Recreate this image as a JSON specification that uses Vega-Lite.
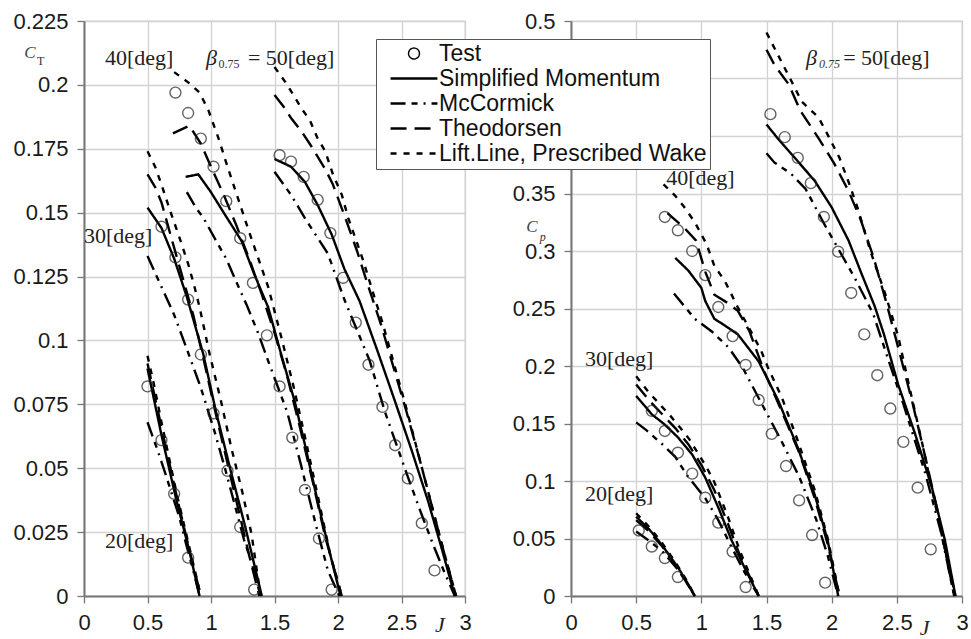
{
"$schema": "https://vega.github.io/schema/vega-lite/v6.json",
"background": "white",
"padding": {"left": 12, "top": 9, "right": 0, "bottom": 0},
"bounds": "flush",
"spacing": 106,
"datasets": {
"ct_lines": [
{"a":20,"m":"SM","J":0.50,"C":0.089},{"a":20,"m":"SM","J":0.61,"C":0.063},{"a":20,"m":"SM","J":0.73,"C":0.037},{"a":20,"m":"SM","J":0.83,"C":0.0176},{"a":20,"m":"SM","J":0.91,"C":0},
{"a":20,"m":"LL","J":0.50,"C":0.094},{"a":20,"m":"LL","J":0.55,"C":0.083},{"a":20,"m":"LL","J":0.61,"C":0.068},{"a":20,"m":"LL","J":0.73,"C":0.040},{"a":20,"m":"LL","J":0.83,"C":0.019},{"a":20,"m":"LL","J":0.92,"C":0},
{"a":20,"m":"TH","J":0.50,"C":0.091},{"a":20,"m":"TH","J":0.61,"C":0.066},{"a":20,"m":"TH","J":0.73,"C":0.039},{"a":20,"m":"TH","J":0.83,"C":0.018},{"a":20,"m":"TH","J":0.92,"C":0},
{"a":20,"m":"MC","J":0.50,"C":0.068},{"a":20,"m":"MC","J":0.58,"C":0.057},{"a":20,"m":"MC","J":0.64,"C":0.048},{"a":20,"m":"MC","J":0.75,"C":0.031},{"a":20,"m":"MC","J":0.79,"C":0.023},{"a":20,"m":"MC","J":0.86,"C":0.010},{"a":20,"m":"MC","J":0.91,"C":0},
{"a":30,"m":"SM","J":0.50,"C":0.152},{"a":30,"m":"SM","J":0.61,"C":0.144},{"a":30,"m":"SM","J":0.71,"C":0.132},{"a":30,"m":"SM","J":0.81,"C":0.117},{"a":30,"m":"SM","J":0.94,"C":0.0945},{"a":30,"m":"SM","J":1.04,"C":0.072},{"a":30,"m":"SM","J":1.15,"C":0.050},{"a":30,"m":"SM","J":1.27,"C":0.027},{"a":30,"m":"SM","J":1.40,"C":0},
{"a":30,"m":"LL","J":0.50,"C":0.174},{"a":30,"m":"LL","J":0.56,"C":0.168},{"a":30,"m":"LL","J":0.61,"C":0.161},{"a":30,"m":"LL","J":0.69,"C":0.149},{"a":30,"m":"LL","J":0.74,"C":0.142},{"a":30,"m":"LL","J":0.82,"C":0.130},{"a":30,"m":"LL","J":0.87,"C":0.121},{"a":30,"m":"LL","J":0.91,"C":0.113},{"a":30,"m":"LL","J":0.99,"C":0.0945},{"a":30,"m":"LL","J":1.08,"C":0.076},{"a":30,"m":"LL","J":1.16,"C":0.058},{"a":30,"m":"LL","J":1.25,"C":0.040},{"a":30,"m":"LL","J":1.32,"C":0.024},{"a":30,"m":"LL","J":1.39,"C":0},
{"a":30,"m":"TH","J":0.50,"C":0.165},{"a":30,"m":"TH","J":0.56,"C":0.160},{"a":30,"m":"TH","J":0.61,"C":0.154},{"a":30,"m":"TH","J":0.70,"C":0.138},{"a":30,"m":"TH","J":0.78,"C":0.124},{"a":30,"m":"TH","J":0.86,"C":0.110},{"a":30,"m":"TH","J":0.94,"C":0.093},{"a":30,"m":"TH","J":1.03,"C":0.073},{"a":30,"m":"TH","J":1.12,"C":0.054},{"a":30,"m":"TH","J":1.21,"C":0.035},{"a":30,"m":"TH","J":1.30,"C":0.016},{"a":30,"m":"TH","J":1.38,"C":0},
{"a":30,"m":"MC","J":0.50,"C":0.133},{"a":30,"m":"MC","J":0.61,"C":0.121},{"a":30,"m":"MC","J":0.71,"C":0.110},{"a":30,"m":"MC","J":0.81,"C":0.0966},{"a":30,"m":"MC","J":0.92,"C":0.0815},{"a":30,"m":"MC","J":1.03,"C":0.064},{"a":30,"m":"MC","J":1.11,"C":0.050},{"a":30,"m":"MC","J":1.18,"C":0.037},{"a":30,"m":"MC","J":1.26,"C":0.022},{"a":30,"m":"MC","J":1.32,"C":0.013},{"a":30,"m":"MC","J":1.39,"C":0},
{"a":40,"m":"LL","J":0.71,"C":0.205},{"a":40,"m":"LL","J":0.82,"C":0.201},{"a":40,"m":"LL","J":0.91,"C":0.197},{"a":40,"m":"LL","J":0.98,"C":0.190},{"a":40,"m":"LL","J":1.06,"C":0.179},{"a":40,"m":"LL","J":1.13,"C":0.168},{"a":40,"m":"LL","J":1.21,"C":0.156},{"a":40,"m":"LL","J":1.29,"C":0.144},{"a":40,"m":"LL","J":1.38,"C":0.131},{"a":40,"m":"LL","J":1.45,"C":0.121},{"a":40,"m":"LL","J":1.55,"C":0.102},{"a":40,"m":"LL","J":1.65,"C":0.082},{"a":40,"m":"LL","J":1.75,"C":0.060},{"a":40,"m":"LL","J":1.85,"C":0.037},{"a":40,"m":"LL","J":1.94,"C":0.016},{"a":40,"m":"LL","J":2.03,"C":0},
{"a":40,"m":"SM","J":0.80,"C":0.164},{"a":40,"m":"SM","J":0.90,"C":0.165},{"a":40,"m":"SM","J":1.00,"C":0.158},{"a":40,"m":"SM","J":1.10,"C":0.150},{"a":40,"m":"SM","J":1.24,"C":0.139},{"a":40,"m":"SM","J":1.34,"C":0.126},{"a":40,"m":"SM","J":1.45,"C":0.113},{"a":40,"m":"SM","J":1.55,"C":0.095},{"a":40,"m":"SM","J":1.66,"C":0.076},{"a":40,"m":"SM","J":1.75,"C":0.057},{"a":40,"m":"SM","J":1.84,"C":0.037},{"a":40,"m":"SM","J":1.93,"C":0.018},{"a":40,"m":"SM","J":2.02,"C":0},
{"a":40,"m":"TH","J":0.70,"C":0.181},{"a":40,"m":"TH","J":0.83,"C":0.184},{"a":40,"m":"TH","J":0.92,"C":0.177},{"a":40,"m":"TH","J":1.00,"C":0.168},{"a":40,"m":"TH","J":1.10,"C":0.157},{"a":40,"m":"TH","J":1.20,"C":0.145},{"a":40,"m":"TH","J":1.30,"C":0.132},{"a":40,"m":"TH","J":1.40,"C":0.118},{"a":40,"m":"TH","J":1.50,"C":0.103},{"a":40,"m":"TH","J":1.60,"C":0.086},{"a":40,"m":"TH","J":1.70,"C":0.066},{"a":40,"m":"TH","J":1.80,"C":0.045},{"a":40,"m":"TH","J":1.90,"C":0.023},{"a":40,"m":"TH","J":2.03,"C":0},
{"a":40,"m":"MC","J":0.81,"C":0.158},{"a":40,"m":"MC","J":0.88,"C":0.152},{"a":40,"m":"MC","J":0.94,"C":0.148},{"a":40,"m":"MC","J":1.04,"C":0.139},{"a":40,"m":"MC","J":1.12,"C":0.132},{"a":40,"m":"MC","J":1.19,"C":0.124},{"a":40,"m":"MC","J":1.28,"C":0.114},{"a":40,"m":"MC","J":1.37,"C":0.103},{"a":40,"m":"MC","J":1.45,"C":0.092},{"a":40,"m":"MC","J":1.60,"C":0.072},{"a":40,"m":"MC","J":1.71,"C":0.051},{"a":40,"m":"MC","J":1.82,"C":0.029},{"a":40,"m":"MC","J":1.92,"C":0.010},{"a":40,"m":"MC","J":2.01,"C":0},
{"a":50,"m":"LL","J":1.50,"C":0.207},{"a":50,"m":"LL","J":1.58,"C":0.2015},{"a":50,"m":"LL","J":1.63,"C":0.1976},{"a":50,"m":"LL","J":1.71,"C":0.191},{"a":50,"m":"LL","J":1.78,"C":0.186},{"a":50,"m":"LL","J":1.84,"C":0.179},{"a":50,"m":"LL","J":1.90,"C":0.174},{"a":50,"m":"LL","J":1.96,"C":0.165},{"a":50,"m":"LL","J":2.03,"C":0.157},{"a":50,"m":"LL","J":2.08,"C":0.148},{"a":50,"m":"LL","J":2.13,"C":0.141},{"a":50,"m":"LL","J":2.20,"C":0.131},{"a":50,"m":"LL","J":2.28,"C":0.118},{"a":50,"m":"LL","J":2.35,"C":0.107},{"a":50,"m":"LL","J":2.44,"C":0.091},{"a":50,"m":"LL","J":2.53,"C":0.075},{"a":50,"m":"LL","J":2.63,"C":0.056},{"a":50,"m":"LL","J":2.73,"C":0.037},{"a":50,"m":"LL","J":2.83,"C":0.018},{"a":50,"m":"LL","J":2.93,"C":0},
{"a":50,"m":"TH","J":1.50,"C":0.196},{"a":50,"m":"TH","J":1.58,"C":0.191},{"a":50,"m":"TH","J":1.63,"C":0.187},{"a":50,"m":"TH","J":1.71,"C":0.182},{"a":50,"m":"TH","J":1.79,"C":0.176},{"a":50,"m":"TH","J":1.90,"C":0.167},{"a":50,"m":"TH","J":1.96,"C":0.161},{"a":50,"m":"TH","J":2.05,"C":0.149},{"a":50,"m":"TH","J":2.15,"C":0.135},{"a":50,"m":"TH","J":2.24,"C":0.121},{"a":50,"m":"TH","J":2.34,"C":0.106},{"a":50,"m":"TH","J":2.44,"C":0.089},{"a":50,"m":"TH","J":2.54,"C":0.072},{"a":50,"m":"TH","J":2.64,"C":0.054},{"a":50,"m":"TH","J":2.74,"C":0.035},{"a":50,"m":"TH","J":2.84,"C":0.016},{"a":50,"m":"TH","J":2.93,"C":0},
{"a":50,"m":"SM","J":1.50,"C":0.171},{"a":50,"m":"SM","J":1.63,"C":0.168},{"a":50,"m":"SM","J":1.74,"C":0.162},{"a":50,"m":"SM","J":1.84,"C":0.153},{"a":50,"m":"SM","J":1.95,"C":0.1415},{"a":50,"m":"SM","J":2.05,"C":0.128},{"a":50,"m":"SM","J":2.17,"C":0.1154},{"a":50,"m":"SM","J":2.31,"C":0.096},{"a":50,"m":"SM","J":2.45,"C":0.076},{"a":50,"m":"SM","J":2.58,"C":0.057},{"a":50,"m":"SM","J":2.71,"C":0.037},{"a":50,"m":"SM","J":2.82,"C":0.018},{"a":50,"m":"SM","J":2.92,"C":0},
{"a":50,"m":"MC","J":1.50,"C":0.166},{"a":50,"m":"MC","J":1.63,"C":0.157},{"a":50,"m":"MC","J":1.75,"C":0.147},{"a":50,"m":"MC","J":1.92,"C":0.134},{"a":50,"m":"MC","J":2.05,"C":0.116},{"a":50,"m":"MC","J":2.15,"C":0.104},{"a":50,"m":"MC","J":2.25,"C":0.092},{"a":50,"m":"MC","J":2.37,"C":0.072},{"a":50,"m":"MC","J":2.54,"C":0.048},{"a":50,"m":"MC","J":2.65,"C":0.033},{"a":50,"m":"MC","J":2.75,"C":0.020},{"a":50,"m":"MC","J":2.84,"C":0.009},{"a":50,"m":"MC","J":2.92,"C":0}
],
"ct_test": [
{"m":"T","J":0.50,"C":0.082},{"m":"T","J":0.61,"C":0.061},{"m":"T","J":0.71,"C":0.040},{"m":"T","J":0.82,"C":0.015},
{"m":"T","J":0.61,"C":0.1445},{"m":"T","J":0.72,"C":0.1325},{"m":"T","J":0.82,"C":0.116},{"m":"T","J":0.92,"C":0.0945},{"m":"T","J":1.02,"C":0.0715},{"m":"T","J":1.13,"C":0.049},{"m":"T","J":1.23,"C":0.027},{"m":"T","J":1.34,"C":0.0025},
{"m":"T","J":0.72,"C":0.197},{"m":"T","J":0.82,"C":0.189},{"m":"T","J":0.92,"C":0.179},{"m":"T","J":1.02,"C":0.168},{"m":"T","J":1.12,"C":0.1545},{"m":"T","J":1.23,"C":0.140},{"m":"T","J":1.33,"C":0.1225},{"m":"T","J":1.44,"C":0.102},{"m":"T","J":1.54,"C":0.082},{"m":"T","J":1.64,"C":0.062},{"m":"T","J":1.74,"C":0.0415},{"m":"T","J":1.85,"C":0.0225},{"m":"T","J":1.95,"C":0.0025},
{"m":"T","J":1.54,"C":0.1725},{"m":"T","J":1.63,"C":0.170},{"m":"T","J":1.73,"C":0.164},{"m":"T","J":1.84,"C":0.155},{"m":"T","J":1.94,"C":0.142},{"m":"T","J":2.04,"C":0.1245},{"m":"T","J":2.14,"C":0.107},{"m":"T","J":2.24,"C":0.0905},{"m":"T","J":2.35,"C":0.074},{"m":"T","J":2.45,"C":0.059},{"m":"T","J":2.55,"C":0.046},{"m":"T","J":2.66,"C":0.0285},{"m":"T","J":2.76,"C":0.010}
],
"cp_lines": [
{"a":20,"m":"SM","J":0.50,"C":0.069},{"a":20,"m":"SM","J":0.60,"C":0.058},{"a":20,"m":"SM","J":0.70,"C":0.044},{"a":20,"m":"SM","J":0.82,"C":0.025},{"a":20,"m":"SM","J":0.89,"C":0.012},{"a":20,"m":"SM","J":0.95,"C":0},
{"a":20,"m":"LL","J":0.50,"C":0.072},{"a":20,"m":"LL","J":0.60,"C":0.060},{"a":20,"m":"LL","J":0.70,"C":0.046},{"a":20,"m":"LL","J":0.82,"C":0.026},{"a":20,"m":"LL","J":0.89,"C":0.013},{"a":20,"m":"LL","J":0.95,"C":0},
{"a":20,"m":"TH","J":0.50,"C":0.066},{"a":20,"m":"TH","J":0.60,"C":0.056},{"a":20,"m":"TH","J":0.70,"C":0.043},{"a":20,"m":"TH","J":0.82,"C":0.024},{"a":20,"m":"TH","J":0.89,"C":0.011},{"a":20,"m":"TH","J":0.95,"C":0},
{"a":20,"m":"MC","J":0.50,"C":0.056},{"a":20,"m":"MC","J":0.60,"C":0.048},{"a":20,"m":"MC","J":0.70,"C":0.039},{"a":20,"m":"MC","J":0.82,"C":0.023},{"a":20,"m":"MC","J":0.89,"C":0.011},{"a":20,"m":"MC","J":0.95,"C":0},
{"a":30,"m":"SM","J":0.50,"C":0.174},{"a":30,"m":"SM","J":0.62,"C":0.158},{"a":30,"m":"SM","J":0.72,"C":0.149},{"a":30,"m":"SM","J":0.82,"C":0.138},{"a":30,"m":"SM","J":0.93,"C":0.123},{"a":30,"m":"SM","J":1.03,"C":0.103},{"a":30,"m":"SM","J":1.13,"C":0.077},{"a":30,"m":"SM","J":1.23,"C":0.049},{"a":30,"m":"SM","J":1.33,"C":0.025},{"a":30,"m":"SM","J":1.44,"C":0},
{"a":30,"m":"LL","J":0.50,"C":0.191},{"a":30,"m":"LL","J":0.59,"C":0.178},{"a":30,"m":"LL","J":0.67,"C":0.168},{"a":30,"m":"LL","J":0.76,"C":0.157},{"a":30,"m":"LL","J":0.84,"C":0.146},{"a":30,"m":"LL","J":0.91,"C":0.136},{"a":30,"m":"LL","J":0.98,"C":0.123},{"a":30,"m":"LL","J":1.04,"C":0.112},{"a":30,"m":"LL","J":1.10,"C":0.099},{"a":30,"m":"LL","J":1.20,"C":0.070},{"a":30,"m":"LL","J":1.30,"C":0.038},{"a":30,"m":"LL","J":1.44,"C":0},
{"a":30,"m":"TH","J":0.50,"C":0.184},{"a":30,"m":"TH","J":0.60,"C":0.170},{"a":30,"m":"TH","J":0.70,"C":0.158},{"a":30,"m":"TH","J":0.80,"C":0.146},{"a":30,"m":"TH","J":0.90,"C":0.132},{"a":30,"m":"TH","J":1.00,"C":0.114},{"a":30,"m":"TH","J":1.10,"C":0.092},{"a":30,"m":"TH","J":1.20,"C":0.064},{"a":30,"m":"TH","J":1.30,"C":0.034},{"a":30,"m":"TH","J":1.44,"C":0},
{"a":30,"m":"MC","J":0.50,"C":0.151},{"a":30,"m":"MC","J":0.58,"C":0.144},{"a":30,"m":"MC","J":0.70,"C":0.132},{"a":30,"m":"MC","J":0.80,"C":0.121},{"a":30,"m":"MC","J":0.89,"C":0.105},{"a":30,"m":"MC","J":1.03,"C":0.085},{"a":30,"m":"MC","J":1.13,"C":0.066},{"a":30,"m":"MC","J":1.23,"C":0.043},{"a":30,"m":"MC","J":1.33,"C":0.021},{"a":30,"m":"MC","J":1.44,"C":0},
{"a":40,"m":"LL","J":0.71,"C":0.358},{"a":40,"m":"LL","J":0.80,"C":0.348},{"a":40,"m":"LL","J":0.87,"C":0.338},{"a":40,"m":"LL","J":0.95,"C":0.325},{"a":40,"m":"LL","J":1.04,"C":0.306},{"a":40,"m":"LL","J":1.10,"C":0.287},{"a":40,"m":"LL","J":1.18,"C":0.274},{"a":40,"m":"LL","J":1.28,"C":0.251},{"a":40,"m":"LL","J":1.39,"C":0.228},{"a":40,"m":"LL","J":1.46,"C":0.213},{"a":40,"m":"LL","J":1.51,"C":0.199},{"a":40,"m":"LL","J":1.62,"C":0.172},{"a":40,"m":"LL","J":1.74,"C":0.135},{"a":40,"m":"LL","J":1.87,"C":0.092},{"a":40,"m":"LL","J":1.97,"C":0.050},{"a":40,"m":"LL","J":2.06,"C":0},
{"a":40,"m":"TH","J":0.74,"C":0.333},{"a":40,"m":"TH","J":0.87,"C":0.320},{"a":40,"m":"TH","J":0.96,"C":0.309},{"a":40,"m":"TH","J":1.03,"C":0.282},{"a":40,"m":"TH","J":1.10,"C":0.262},{"a":40,"m":"TH","J":1.20,"C":0.255},{"a":40,"m":"TH","J":1.28,"C":0.248},{"a":40,"m":"TH","J":1.37,"C":0.230},{"a":40,"m":"TH","J":1.48,"C":0.196},{"a":40,"m":"TH","J":1.60,"C":0.165},{"a":40,"m":"TH","J":1.75,"C":0.125},{"a":40,"m":"TH","J":1.87,"C":0.085},{"a":40,"m":"TH","J":1.97,"C":0.045},{"a":40,"m":"TH","J":2.06,"C":0},
{"a":40,"m":"SM","J":0.80,"C":0.294},{"a":40,"m":"SM","J":0.90,"C":0.283},{"a":40,"m":"SM","J":1.00,"C":0.268},{"a":40,"m":"SM","J":1.03,"C":0.2565},{"a":40,"m":"SM","J":1.10,"C":0.241},{"a":40,"m":"SM","J":1.17,"C":0.236},{"a":40,"m":"SM","J":1.28,"C":0.2275},{"a":40,"m":"SM","J":1.44,"C":0.204},{"a":40,"m":"SM","J":1.59,"C":0.170},{"a":40,"m":"SM","J":1.74,"C":0.129},{"a":40,"m":"SM","J":1.87,"C":0.088},{"a":40,"m":"SM","J":1.97,"C":0.048},{"a":40,"m":"SM","J":2.05,"C":0},
{"a":40,"m":"MC","J":0.79,"C":0.263},{"a":40,"m":"MC","J":0.87,"C":0.252},{"a":40,"m":"MC","J":0.95,"C":0.241},{"a":40,"m":"MC","J":1.08,"C":0.230},{"a":40,"m":"MC","J":1.21,"C":0.216},{"a":40,"m":"MC","J":1.32,"C":0.198},{"a":40,"m":"MC","J":1.45,"C":0.170},{"a":40,"m":"MC","J":1.60,"C":0.138},{"a":40,"m":"MC","J":1.75,"C":0.104},{"a":40,"m":"MC","J":1.88,"C":0.067},{"a":40,"m":"MC","J":1.97,"C":0.035},{"a":40,"m":"MC","J":2.05,"C":0},
{"a":50,"m":"LL","J":1.50,"C":0.490},{"a":50,"m":"LL","J":1.59,"C":0.470},{"a":50,"m":"LL","J":1.69,"C":0.448},{"a":50,"m":"LL","J":1.77,"C":0.430},{"a":50,"m":"LL","J":1.90,"C":0.416},{"a":50,"m":"LL","J":1.97,"C":0.401},{"a":50,"m":"LL","J":2.06,"C":0.381},{"a":50,"m":"LL","J":2.13,"C":0.360},{"a":50,"m":"LL","J":2.20,"C":0.337},{"a":50,"m":"LL","J":2.30,"C":0.299},{"a":50,"m":"LL","J":2.41,"C":0.263},{"a":50,"m":"LL","J":2.51,"C":0.226},{"a":50,"m":"LL","J":2.59,"C":0.185},{"a":50,"m":"LL","J":2.70,"C":0.130},{"a":50,"m":"LL","J":2.79,"C":0.082},{"a":50,"m":"LL","J":2.87,"C":0.040},{"a":50,"m":"LL","J":2.95,"C":0},
{"a":50,"m":"TH","J":1.50,"C":0.475},{"a":50,"m":"TH","J":1.56,"C":0.462},{"a":50,"m":"TH","J":1.67,"C":0.445},{"a":50,"m":"TH","J":1.76,"C":0.422},{"a":50,"m":"TH","J":1.90,"C":0.398},{"a":50,"m":"TH","J":2.02,"C":0.376},{"a":50,"m":"TH","J":2.13,"C":0.352},{"a":50,"m":"TH","J":2.22,"C":0.328},{"a":50,"m":"TH","J":2.32,"C":0.295},{"a":50,"m":"TH","J":2.42,"C":0.255},{"a":50,"m":"TH","J":2.52,"C":0.212},{"a":50,"m":"TH","J":2.62,"C":0.168},{"a":50,"m":"TH","J":2.72,"C":0.120},{"a":50,"m":"TH","J":2.82,"C":0.070},{"a":50,"m":"TH","J":2.94,"C":0},
{"a":50,"m":"SM","J":1.50,"C":0.410},{"a":50,"m":"SM","J":1.60,"C":0.396},{"a":50,"m":"SM","J":1.74,"C":0.378},{"a":50,"m":"SM","J":1.87,"C":0.361},{"a":50,"m":"SM","J":2.00,"C":0.338},{"a":50,"m":"SM","J":2.13,"C":0.309},{"a":50,"m":"SM","J":2.23,"C":0.280},{"a":50,"m":"SM","J":2.33,"C":0.252},{"a":50,"m":"SM","J":2.40,"C":0.228},{"a":50,"m":"SM","J":2.51,"C":0.184},{"a":50,"m":"SM","J":2.64,"C":0.141},{"a":50,"m":"SM","J":2.77,"C":0.094},{"a":50,"m":"SM","J":2.87,"C":0.048},{"a":50,"m":"SM","J":2.95,"C":0},
{"a":50,"m":"MC","J":1.50,"C":0.385},{"a":50,"m":"MC","J":1.56,"C":0.377},{"a":50,"m":"MC","J":1.69,"C":0.367},{"a":50,"m":"MC","J":1.80,"C":0.354},{"a":50,"m":"MC","J":1.95,"C":0.322},{"a":50,"m":"MC","J":2.06,"C":0.300},{"a":50,"m":"MC","J":2.18,"C":0.276},{"a":50,"m":"MC","J":2.32,"C":0.245},{"a":50,"m":"MC","J":2.43,"C":0.207},{"a":50,"m":"MC","J":2.55,"C":0.167},{"a":50,"m":"MC","J":2.72,"C":0.106},{"a":50,"m":"MC","J":2.84,"C":0.055},{"a":50,"m":"MC","J":2.94,"C":0}
],
"cp_test": [
{"m":"T","J":0.52,"C":0.057},{"m":"T","J":0.62,"C":0.043},{"m":"T","J":0.72,"C":0.033},{"m":"T","J":0.82,"C":0.0165},
{"m":"T","J":0.62,"C":0.161},{"m":"T","J":0.72,"C":0.1435},{"m":"T","J":0.82,"C":0.1246},{"m":"T","J":0.93,"C":0.1064},{"m":"T","J":1.03,"C":0.0855},{"m":"T","J":1.13,"C":0.0638},{"m":"T","J":1.24,"C":0.0386},{"m":"T","J":1.34,"C":0.0078},
{"m":"T","J":0.72,"C":0.3296},{"m":"T","J":0.82,"C":0.318},{"m":"T","J":0.93,"C":0.300},{"m":"T","J":1.03,"C":0.279},{"m":"T","J":1.13,"C":0.2513},{"m":"T","J":1.24,"C":0.226},{"m":"T","J":1.34,"C":0.2009},{"m":"T","J":1.44,"C":0.1704},{"m":"T","J":1.54,"C":0.141},{"m":"T","J":1.65,"C":0.113},{"m":"T","J":1.75,"C":0.0832},{"m":"T","J":1.85,"C":0.053},{"m":"T","J":1.95,"C":0.0116},
{"m":"T","J":1.53,"C":0.419},{"m":"T","J":1.64,"C":0.399},{"m":"T","J":1.74,"C":0.381},{"m":"T","J":1.84,"C":0.359},{"m":"T","J":1.94,"C":0.3296},{"m":"T","J":2.05,"C":0.2994},{"m":"T","J":2.15,"C":0.2635},{"m":"T","J":2.25,"C":0.2275},{"m":"T","J":2.35,"C":0.192},{"m":"T","J":2.45,"C":0.163},{"m":"T","J":2.55,"C":0.134},{"m":"T","J":2.66,"C":0.0942},{"m":"T","J":2.76,"C":0.0406}
],
"ct_txt": [{"J":0.165,"C":0.2105,"t":"40[deg]"},{"J":0.0,"C":0.1408,"t":"30[deg]"},{"J":0.165,"C":0.0215,"t":"20[deg]"},{"J":1.291,"C":0.2105,"t":"= 50[deg]"}],
"ct_it": [{"J":0.961,"C":0.2105,"t":"β"},{"J":2.764,"C":-0.0114,"t":"J"}],
"ct_c": [{"J":-0.47,"C":0.2124,"t":"C"}],
"ct_sub": [{"J":1.06,"C":0.2081,"t":"0.75"},{"J":-0.37,"C":0.2093,"t":"T"}],
"cp_txt": [{"J":0.731,"C":0.3635,"t":"40[deg]"},{"J":0.107,"C":0.206,"t":"30[deg]"},{"J":0.107,"C":0.0886,"t":"20[deg]"},{"J":2.088,"C":0.468,"t":"= 50[deg]"}],
"cp_it": [{"J":1.804,"C":0.468,"t":"β"},{"J":2.676,"C":-0.0278,"t":"J"}],
"cp_c": [{"J":-0.343,"C":0.321,"t":"C"}],
"cp_sub": [{"J":1.902,"C":0.4626,"t":"0.75"},{"J":-0.24,"C":0.312,"t":"p"}]
},
"hconcat": [
{
"width": 381, "height": 575,
"encoding": {
"x": {"field": "J", "type": "quantitative", "scale": {"domain": [0, 3], "nice": false}, "axis": {"title": null, "values": [0, 0.5, 1, 1.5, 2, 2.5, 3], "labelExpr": "format(datum.value, '.3~f')", "labelFlush": false}},
"y": {"field": "C", "type": "quantitative", "scale": {"domain": [0, 0.225], "nice": false}, "axis": {"title": null, "values": [0, 0.025, 0.05, 0.075, 0.1, 0.125, 0.15, 0.175, 0.2, 0.225], "labelExpr": "format(datum.value, '.3~f')", "labelFlush": false}}
},
"layer": [
{"data": {"name": "ct_lines"}, "mark": {"type": "line", "color": "black", "strokeWidth": 2.4},
 "encoding": {"detail": {"field": "a", "type": "nominal"},
  "strokeDash": {"field": "m", "type": "nominal", "scale": {"domain": ["T", "SM", "MC", "TH", "LL"], "range": [[1, 0], [1, 0], [15, 6, 6, 6, 2, 6], [16, 8], [6, 7]]},
   "legend": {"title": null, "orient": "none", "legendX": 292, "legendY": 18, "padding": 3, "fillColor": "white", "strokeColor": "#555", "labelFont": "Liberation Sans", "labelFontSize": 23, "labelColor": "#111", "labelLimit": 500, "symbolSize": 120, "symbolStrokeWidth": 2.5, "symbolStrokeColor": "black", "symbolOffset": 7, "labelOffset": 30, "rowPadding": 1, "labelExpr": "datum.label == 'SM' ? 'Simplified Momentum' : datum.label == 'MC' ? 'McCormick' : datum.label == 'TH' ? 'Theodorsen' : datum.label == 'LL' ? 'Lift.Line, Prescribed Wake' : 'Test'", "encode": {"symbols": {"update": {"x": {"value": 35}, "shape": {"signal": "datum.value === 'T' ? 'circle' : 'stroke'"}, "size": {"signal": "datum.value === 'T' ? 120 : 2200"}, "strokeWidth": {"signal": "datum.value === 'T' ? 1.4 : 2.5"}, "fill": {"value": "transparent"}, "stroke": {"value": "black"}}}}}}}},
{"data": {"name": "ct_test"}, "mark": {"type": "point", "shape": "circle", "filled": false, "size": 120, "color": "#222", "strokeWidth": 1.4}, "encoding": {}},
{"data": {"name": "ct_txt"}, "mark": {"type": "text", "font": "Liberation Serif", "fontSize": 22, "align": "left", "baseline": "middle", "color": "#222"}, "encoding": {"text": {"field": "t"}}},
{"data": {"name": "ct_it"}, "mark": {"type": "text", "font": "Liberation Serif", "fontStyle": "italic", "fontSize": 22, "align": "left", "baseline": "middle", "color": "#222"}, "encoding": {"text": {"field": "t"}}},
{"data": {"name": "ct_c"}, "mark": {"type": "text", "font": "Liberation Serif", "fontStyle": "italic", "fontSize": 17, "align": "left", "baseline": "middle", "color": "#444"}, "encoding": {"text": {"field": "t"}}},
{"data": {"name": "ct_sub"}, "mark": {"type": "text", "font": "Liberation Serif", "fontSize": 12, "align": "left", "baseline": "middle", "color": "#333"}, "encoding": {"text": {"field": "t"}}}
]
},
{
"width": 391, "height": 575,
"encoding": {
"x": {"field": "J", "type": "quantitative", "scale": {"domain": [0, 3], "nice": false}, "axis": {"title": null, "values": [0, 0.5, 1, 1.5, 2, 2.5, 3], "labelExpr": "format(datum.value, '.3~f')", "labelFlush": false}},
"y": {"field": "C", "type": "quantitative", "scale": {"domain": [0, 0.5], "nice": false}, "axis": {"title": null, "values": [0, 0.05, 0.1, 0.15, 0.2, 0.25, 0.3, 0.35, 0.4, 0.45, 0.5], "labelExpr": "datum.value > 0.38 && datum.value < 0.47 ? '' : format(datum.value, '.3~f')", "labelFlush": false}}
},
"layer": [
{"data": {"name": "cp_lines"}, "mark": {"type": "line", "color": "black", "strokeWidth": 2.4},
 "encoding": {"detail": {"field": "a", "type": "nominal"},
  "strokeDash": {"field": "m", "type": "nominal", "scale": {"domain": ["T", "SM", "MC", "TH", "LL"], "range": [[1, 0], [1, 0], [15, 6, 6, 6, 2, 6], [16, 8], [6, 7]]},
   "legend": {"title": null, "orient": "none", "legendX": 292, "legendY": 18, "padding": 3, "fillColor": "white", "strokeColor": "#555", "labelFont": "Liberation Sans", "labelFontSize": 23, "labelColor": "#111", "labelLimit": 500, "symbolSize": 120, "symbolStrokeWidth": 2.5, "symbolStrokeColor": "black", "symbolOffset": 7, "labelOffset": 30, "rowPadding": 1, "labelExpr": "datum.label == 'SM' ? 'Simplified Momentum' : datum.label == 'MC' ? 'McCormick' : datum.label == 'TH' ? 'Theodorsen' : datum.label == 'LL' ? 'Lift.Line, Prescribed Wake' : 'Test'", "encode": {"symbols": {"update": {"x": {"value": 35}, "shape": {"signal": "datum.value === 'T' ? 'circle' : 'stroke'"}, "size": {"signal": "datum.value === 'T' ? 120 : 2200"}, "strokeWidth": {"signal": "datum.value === 'T' ? 1.4 : 2.5"}, "fill": {"value": "transparent"}, "stroke": {"value": "black"}}}}}}}},
{"data": {"name": "cp_test"}, "mark": {"type": "point", "shape": "circle", "filled": false, "size": 120, "color": "#222", "strokeWidth": 1.4}, "encoding": {}},
{"data": {"name": "cp_txt"}, "mark": {"type": "text", "font": "Liberation Serif", "fontSize": 22, "align": "left", "baseline": "middle", "color": "#222"}, "encoding": {"text": {"field": "t"}}},
{"data": {"name": "cp_it"}, "mark": {"type": "text", "font": "Liberation Serif", "fontStyle": "italic", "fontSize": 22, "align": "left", "baseline": "middle", "color": "#222"}, "encoding": {"text": {"field": "t"}}},
{"data": {"name": "cp_c"}, "mark": {"type": "text", "font": "Liberation Serif", "fontStyle": "italic", "fontSize": 17, "align": "left", "baseline": "middle", "color": "#444"}, "encoding": {"text": {"field": "t"}}},
{"data": {"name": "cp_sub"}, "mark": {"type": "text", "font": "Liberation Serif", "fontStyle": "italic", "fontSize": 12, "align": "left", "baseline": "middle", "color": "#333"}, "encoding": {"text": {"field": "t"}}}
]
}
],
"config": {
"view": {"stroke": "#b8b8b8", "strokeWidth": 1.2},
"axis": {"labelFont": "Liberation Sans", "labelFontSize": 22, "labelColor": "#1a1a1a", "grid": true, "gridColor": "#d2d2d2", "gridWidth": 1.3, "tickColor": "#777", "tickSize": 7, "tickWidth": 1.3, "domainColor": "#777", "domainWidth": 2, "labelPadding": 9}
}
}
